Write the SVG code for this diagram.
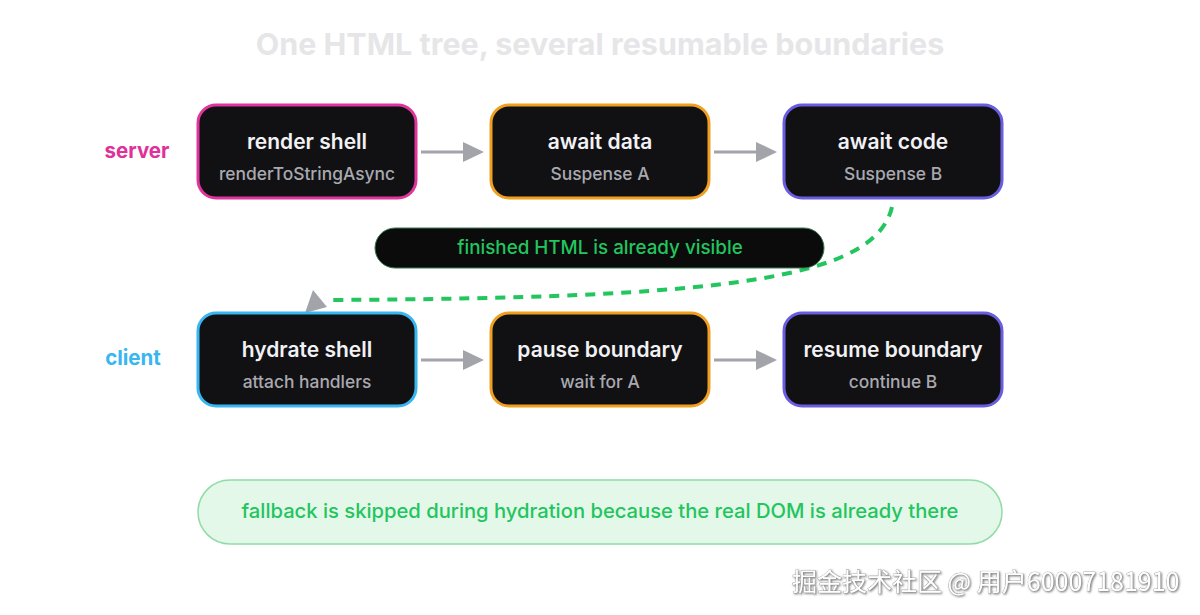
<svg xmlns="http://www.w3.org/2000/svg" width="1200" height="615" viewBox="0 0 1200 615">
<defs>
<style>
.title{font-family:Inter,"Liberation Sans",sans-serif;font-weight:700;font-size:30.5px;fill:#e6e6e8;text-anchor:middle}
.lane{font-family:Inter,"Liberation Sans",sans-serif;font-weight:700;font-size:20.5px;text-anchor:middle}
.box{fill:#111114;stroke-width:3}
.t1{font-family:Inter,"Liberation Sans",sans-serif;font-weight:600;font-size:21px;fill:#f2f2f4;text-anchor:middle}
.t2{font-family:Inter,"Liberation Sans",sans-serif;font-weight:500;font-size:17.4px;fill:#a9a9b0;text-anchor:middle}
.note{font-family:Inter,"Liberation Sans",sans-serif;font-weight:500;fill:#22c55e;text-anchor:middle}
.wm{font-family:"Noto Sans CJK SC","Liberation Sans",sans-serif;font-size:25px;fill:#ffffff;stroke:#8a8a8a;stroke-width:0.6;paint-order:stroke}
.cn{stroke:#a3a3aa;stroke-width:3;fill:none}
.hd{fill:#a3a3aa}
</style>
<filter id="sh" x="-5%" y="-20%" width="110%" height="150%">
<feDropShadow dx="1" dy="1" stdDeviation="0.8" flood-color="#555" flood-opacity="0.8"/>
</filter>
</defs>
<rect width="1200" height="615" fill="#ffffff"/>
<text class="title" x="600" y="55">One HTML tree, several resumable boundaries</text>
<text class="lane" x="137" y="158" fill="#e0309a">server</text>
<text class="lane" x="133" y="365" fill="#38b6f0">client</text>

<g id="connectors">
<line class="cn" x1="421" y1="152" x2="463" y2="152"/>
<polygon class="hd" points="463,142 484,152 463,162"/>
<line class="cn" x1="714" y1="152" x2="756" y2="152"/>
<polygon class="hd" points="756,142 777,152 756,162"/>
<line class="cn" x1="421" y1="360" x2="463" y2="360"/>
<polygon class="hd" points="463,350 484,360 463,370"/>
<line class="cn" x1="714" y1="360" x2="756" y2="360"/>
<polygon class="hd" points="756,350 777,360 756,370"/>
<path d="M892 207 C 875 280, 720 298, 330 300" fill="none" stroke="#22c55e" stroke-width="4" stroke-dasharray="10 8"/>
<polygon class="hd" points="313,290 305,313 327,307"/>
</g>

<g id="render-shell">
<rect class="box" x="198" y="105" width="218" height="93" rx="18" stroke="#e0359c"/>
<text class="t1" x="307" y="149">render shell</text>
<text class="t2" x="307" y="180">renderToStringAsync</text>
</g>
<g id="await-data">
<rect class="box" x="491" y="105" width="218" height="93" rx="18" stroke="#f0a020"/>
<text class="t1" x="600" y="149">await data</text>
<text class="t2" x="600" y="180">Suspense A</text>
</g>
<g id="await-code">
<rect class="box" x="784" y="105" width="218" height="93" rx="18" stroke="#6a5ee0"/>
<text class="t1" x="893" y="149">await code</text>
<text class="t2" x="893" y="180">Suspense B</text>
</g>
<g id="html-visible">
<rect x="375" y="228" width="449" height="40" rx="20" fill="#0b0b0b" stroke="#3a7a50" stroke-width="1"/>
<text class="note" x="600" y="254" font-size="18.8">finished HTML is already visible</text>
</g>
<g id="hydrate-shell">
<rect class="box" x="198" y="313" width="218" height="93" rx="18" stroke="#38b6f0"/>
<text class="t1" x="307" y="357">hydrate shell</text>
<text class="t2" x="307" y="388">attach handlers</text>
</g>
<g id="pause-boundary">
<rect class="box" x="491" y="313" width="218" height="93" rx="18" stroke="#f0a020"/>
<text class="t1" x="600" y="357">pause boundary</text>
<text class="t2" x="600" y="388">wait for A</text>
</g>
<g id="resume-boundary">
<rect class="box" x="784" y="313" width="218" height="93" rx="18" stroke="#6a5ee0"/>
<text class="t1" x="893" y="357">resume boundary</text>
<text class="t2" x="893" y="388">continue B</text>
</g>
<g id="fallback-note">
<rect x="198" y="480" width="804" height="64" rx="32" fill="#e4f8e9" stroke="#8fdca6" stroke-width="1.5"/>
<text class="note" x="600" y="518" font-size="20.2">fallback is skipped during hydration because the real DOM is already there</text>
</g>
<text class="wm" x="792" y="591" filter="url(#sh)">掘金技术社区 @ 用户60007181910</text>
</svg>
